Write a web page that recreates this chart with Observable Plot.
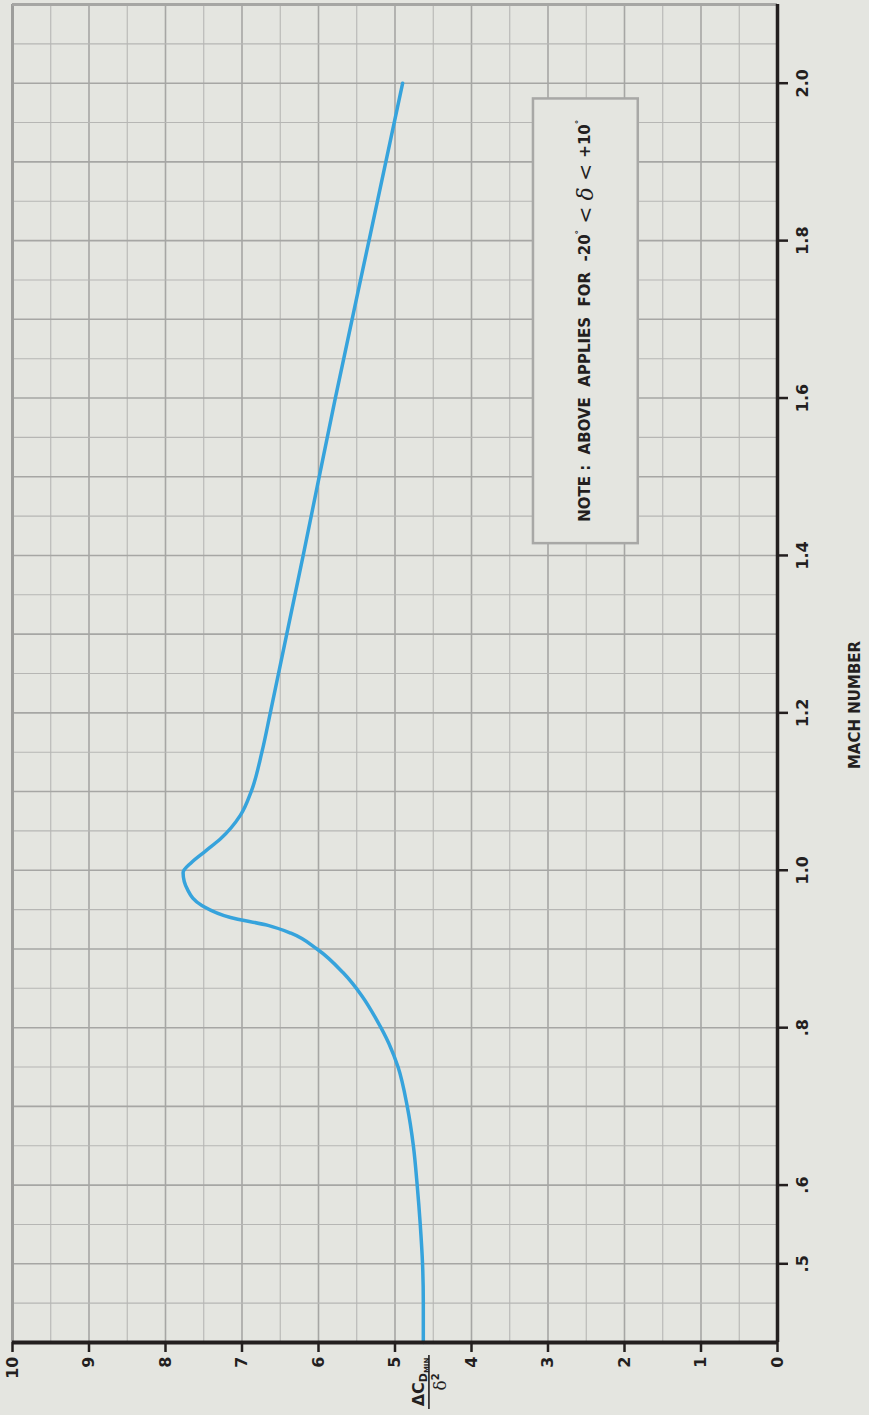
<!DOCTYPE html>
<html><head><meta charset="utf-8">
<script src="https://cdn.jsdelivr.net/npm/d3@7"></script>
<script src="https://cdn.jsdelivr.net/npm/@observablehq/plot@0.6"></script>
<style>
html,body{margin:0;padding:0;background:#e4e5e0;}
#chart svg{display:block;}
</style></head><body><div id="chart"></div>
<script>
// Curve: ΔC_Dmin/δ² versus Mach number
const machValues = [0.40, 0.45, 0.50, 0.55, 0.60, 0.65, 0.70, 0.75, 0.78, 0.81, 0.84, 0.87, 0.90, 0.92, 0.93, 0.94, 0.955, 0.975, 0.997, 1.01, 1.025, 1.04, 1.07, 1.10, 1.15, 1.20, 1.40, 1.60, 1.80, 2.00];
const dragValues = [4.63, 4.63, 4.64, 4.67, 4.71, 4.76, 4.84, 4.96, 5.08, 5.24, 5.43, 5.68, 6.02, 6.36, 6.66, 7.15, 7.52, 7.71, 7.77, 7.66, 7.47, 7.28, 7.02, 6.88, 6.74, 6.63, 6.20, 5.78, 5.34, 4.90];

const valueTicks = [0, 1, 2, 3, 4, 5, 6, 7, 8, 9, 10];
const valueTickLabels = ["0", "1", "2", "3", "4", "5", "6", "7", "8", "9", "10"];
const machTicks = [0.5, 0.6, 0.8, 1.0, 1.2, 1.4, 1.6, 1.8, 2.0];
const machTickLabels = [".5", ".6", ".8", "1.0", "1.2", "1.4", "1.6", "1.8", "2.0"];
const valueGrid = d3.range(0, 21).map(i => i / 2);
const machGrid = d3.range(8, 43).map(i => i / 20);
const machLabel = "MACH NUMBER";
const noteBox = {valueFrom: 1.82, valueTo: 3.19, machFrom: 1.415, machTo: 1.98};

const data = machValues.map((m, i) => ({mach: m, value: dragValues[i]}));
const BG = "#e4e5e0";
const INK = "#231f1f";
const FONT = "'DejaVu Sans', sans-serif";

const plot = Plot.plot({
  width: 869, height: 1415,
  marginLeft: 12, marginRight: 92, marginTop: 4, marginBottom: 73,
  x: {domain: [0, 10], reverse: true},
  y: {domain: [0.4, 2.1]},
  style: {background: BG, fontFamily: FONT},
  marks: [
    Plot.ruleX(valueGrid.filter(d => !Number.isInteger(d)), {stroke: "#b6b6b4", strokeWidth: 1.1}),
    Plot.ruleX(valueGrid.filter(d => Number.isInteger(d)), {stroke: "#a6a6a4", strokeWidth: 1.6}),
    Plot.ruleY(machGrid.filter((d, i) => i % 2 === 1), {stroke: "#b6b6b4", strokeWidth: 1.1}),
    Plot.ruleY(machGrid.filter((d, i) => i % 2 === 0), {stroke: "#a6a6a4", strokeWidth: 1.6}),
    Plot.rect([noteBox], {x1: "valueFrom", x2: "valueTo", y1: "machFrom", y2: "machTo", fill: BG, stroke: "#a8a8a6", strokeWidth: 2.5}),
    Plot.line(data, {x: "value", y: "mach", stroke: "#36a3dc", strokeWidth: 3.5, curve: "monotone-y"}),
    Plot.ruleX([10], {stroke: "#9d9d9b", strokeWidth: 3}),
    Plot.ruleY([2.1], {stroke: "#a6a6a4", strokeWidth: 3}),
    Plot.ruleX([0], {stroke: INK, strokeWidth: 3.5}),
    Plot.ruleY([0.4], {stroke: INK, strokeWidth: 4}),
    Plot.axisX({ticks: valueTicks, tickSize: 10, tickFormat: () => "", stroke: INK, strokeWidth: 2.5, label: null}),
    Plot.axisY({anchor: "right", ticks: machTicks, tickSize: 10, tickFormat: () => "", stroke: INK, strokeWidth: 2.5, label: null}),
    Plot.text(valueTicks, {x: d => d, text: (d, i) => valueTickLabels[i], frameAnchor: "bottom", dy: 14, rotate: -90, textAnchor: "end", lineAnchor: "middle", fontSize: 16, fontWeight: 700, fill: INK}),
    Plot.text(machTicks, {y: d => d, text: (d, i) => machTickLabels[i], frameAnchor: "right", dx: 25, rotate: -90, textAnchor: "middle", lineAnchor: "middle", fontSize: 16, fontWeight: 700, fill: INK}),
    Plot.text([machLabel], {y: () => 1.21, frameAnchor: "right", dx: 78, rotate: -90, textAnchor: "middle", lineAnchor: "middle", fontSize: 15, fontWeight: 700, fill: INK})
  ]
});
document.getElementById("chart").appendChild(plot);

// Note text and y-axis fraction label
const sx = plot.scale("x"), sy = plot.scale("y");
const svg = d3.select(plot);
const nx = sx.apply((noteBox.valueFrom + noteBox.valueTo) / 2);
const ny = sy.apply((noteBox.machFrom + noteBox.machTo) / 2);
const note = svg.append("text")
  .attr("transform", `translate(${nx},${ny}) rotate(-90)`)
  .attr("text-anchor", "middle").attr("dominant-baseline", "central")
  .style("white-space", "pre")
  .attr("font-family", FONT).attr("font-size", 15).attr("font-weight", 700).attr("fill", INK);
note.append("tspan").text("NOTE :  ABOVE  APPLIES  FOR  -20");
note.append("tspan").attr("font-size", 9).attr("dy", -6).text("°");
note.append("tspan").attr("dy", 6).attr("font-weight", 400).attr("font-size", 20).text(" < ");
note.append("tspan").attr("font-weight", 400).attr("font-style", "italic").attr("font-size", 22).attr("font-family", "'DejaVu Serif', serif").text("δ");
note.append("tspan").attr("font-weight", 400).attr("font-size", 20).text(" < ");
note.append("tspan").text("+10");
note.append("tspan").attr("font-size", 9).attr("dy", -6).text("°");

const fx = sx.apply(4.55), fy = 1382;
const frac = svg.append("g").attr("transform", `translate(${fx},${fy}) rotate(-90)`)
  .attr("font-family", FONT).attr("font-weight", 700).attr("fill", INK);
const num = frac.append("text").attr("x", 0).attr("y", -5).attr("text-anchor", "middle").attr("font-size", 16);
num.append("tspan").text("ΔC");
num.append("tspan").attr("font-size", 11).attr("dy", 3).text("D");
num.append("tspan").attr("font-size", 7).attr("dy", 2).text("MIN");
frac.append("line").attr("x1", -27).attr("x2", 27).attr("y1", 0).attr("y2", 0).attr("stroke", INK).attr("stroke-width", 1.6);
const den = frac.append("text").attr("x", 0).attr("y", 17).attr("text-anchor", "middle").attr("font-size", 17);
den.append("tspan").attr("font-weight", 400).attr("font-family", "'DejaVu Serif', serif").text("δ");
den.append("tspan").attr("font-size", 10).attr("dy", -7).text("2");
</script>
</body></html>
